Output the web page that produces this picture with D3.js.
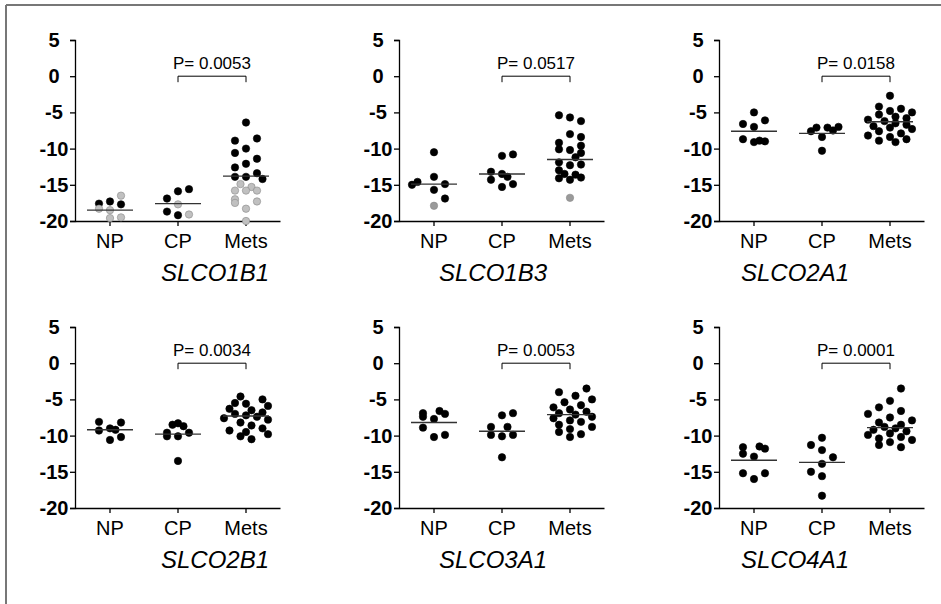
<html>
<head>
<meta charset="utf-8">
<title>SLCO expression dot plots</title>
<script src="https://cdn.jsdelivr.net/npm/d3@7"></script>
<style>
  body { margin: 0; background: #fff; }
  svg { font-family: "Liberation Sans", Arial, sans-serif; }
</style>
</head>
<body>
<svg width="941" height="604"></svg>
<script>

// groups and ticks
var groups = ["NP", "CP", "Mets"]
var yTicks = [5, 0, -5, -10, -15, -20]
var genes = ["SLCO1B1", "SLCO1B3", "SLCO2A1", "SLCO2B1", "SLCO3A1", "SLCO4A1"]
var pValues = ["0.0053", "0.0517", "0.0158", "0.0034", "0.0053", "0.0001"]

// points: [value, jitter column, shade (0 black, 1 light grey, 2 grey)]
var slco1b1 = {
  NP: [[-17.6,-1,0],[-17.3,0,0],[-17.7,1,0],[-16.5,1,1],[-18.3,-1,1],[-18.5,0,1],[-19.6,0,1],[-19.5,1,1]],
  CP: [[-16.9,-1,0],[-15.9,0,0],[-15.6,1,0],[-17.7,0,1],[-18.7,-1,0],[-19.2,0,0],[-19.1,1,1]],
  Mets: [[-6.4,0,0],[-8.9,-1,0],[-8.6,1,0],[-10.6,-1,0],[-10.0,0,0],[-11.4,1,0],[-12.6,-1,0],[-12.1,0,0],
         [-13.9,-1,0],[-13.9,0,0],[-13.4,1,0],[-14.2,1.5,0],[-14.9,-0.5,1],[-15.3,0.5,1],[-15.8,-1,1],
         [-15.8,0,1],[-15.8,1,1],[-17.0,-1,1],[-17.5,-1,1],[-17.3,1,1],[-18.3,0,1],[-20.0,0,1]]
}
var slco1b3 = {
  NP: [[-10.5,0,0],[-13.9,0,0],[-14.6,-1.5,0],[-15.0,-2,0],[-14.9,1,0],[-15.7,0,0],[-16.9,1,0],[-17.9,0,2]],
  CP: [[-11.0,0,0],[-10.8,1,0],[-13.2,-1,0],[-13.5,0,0],[-13.9,0.5,0],[-14.3,-1,0],[-14.9,1,0],[-15.3,0,0]],
  Mets: [[-5.4,-1,0],[-5.7,0,0],[-6.2,1,0],[-8.0,0,0],[-8.4,1,0],[-9.2,-1,0],[-9.6,1,0],[-10.1,-1,0],
         [-10.2,0,0],[-10.6,1,0],[-11.2,0.5,0],[-11.9,-1,0],[-12.3,0,0],[-12.2,1,0],[-13.0,-1,0],
         [-13.5,-0.5,0],[-13.6,0.5,0],[-14.1,-1,0],[-14.3,0,0],[-14.0,1,0],[-16.8,0,2]]
}
var slco2a1 = {
  NP: [[-5.0,0,0],[-6.6,-1,0],[-6.1,1,0],[-7.0,0,0],[-8.7,-1,0],[-9.1,0,0],[-8.9,0.5,0],[-9.0,1,0]],
  CP: [[-7.6,-1,0],[-7.1,-0.5,0],[-7.1,0.5,0],[-7.5,1,0],[-7.0,1.5,0],[-8.4,0,0],[-10.3,0,0]],
  Mets: [[-2.7,0,0],[-4.2,-1,0],[-4.5,1,0],[-4.8,0,0],[-5.0,2,0],[-5.3,-1,0],[-5.6,0.5,0],[-5.8,1.5,0],
         [-6.0,-2,0],[-6.2,-0.5,0],[-6.5,0.5,0],[-6.7,1.5,0],[-6.9,-1.5,0],[-7.1,0,0],[-7.3,2,0],
         [-7.6,-1,0],[-7.9,1,0],[-8.2,-2,0],[-8.4,0,0],[-8.7,1.5,0],[-8.9,-1,0],[-9.1,0.5,0]]
}
var slco2b1 = {
  NP: [[-8.1,-1,0],[-8.2,1,0],[-9.3,-1,0],[-9.0,0,0],[-9.2,0.5,0],[-10.2,1,0],[-10.6,0,0]],
  CP: [[-8.5,-0.5,0],[-8.3,0,0],[-8.7,0.5,0],[-9.6,-1,0],[-9.6,1,0],[-10.1,-1,0],[-10.1,0,0],[-13.5,0,0]],
  Mets: [[-4.6,-0.5,0],[-5.0,1.5,0],[-5.5,-1,0],[-5.6,0,0],[-5.9,2,0],[-6.3,-1.5,0],[-6.5,0.5,0],
         [-6.8,1.5,0],[-7.0,-1,0],[-7.2,0,0],[-7.4,1,0],[-7.6,-2,0],[-7.8,2,0],[-8.2,-0.5,0],[-8.6,0.5,0],
         [-9.0,1.5,0],[-9.3,-1.5,0],[-9.5,0,0],[-9.8,2,0],[-10.1,-0.5,0],[-10.5,0.5,0]]
}
var slco3a1 = {
  NP: [[-6.9,-1,0],[-6.6,0.5,0],[-7.0,1,0],[-7.4,-1,0],[-7.7,0,0],[-8.9,-1,0],[-10.2,0,0],[-9.9,1,0]],
  CP: [[-7.2,0,0],[-6.9,1,0],[-8.8,-1,0],[-8.8,0.5,0],[-9.9,-1,0],[-10.1,0,0],[-9.9,1,0],[-13.0,0,0]],
  Mets: [[-3.5,1.5,0],[-4.0,-1,0],[-4.5,0.5,0],[-5.0,2,0],[-5.4,-0.5,0],[-5.8,1,0],[-6.1,-1.5,0],
         [-6.4,0,0],[-6.7,1.5,0],[-6.9,-1,0],[-7.1,0.5,0],[-7.4,2,0],[-7.6,-1.5,0],[-7.9,0,0],[-8.1,1,0],
         [-8.5,-1,0],[-8.8,2,0],[-9.1,0,0],[-9.5,-1,0],[-9.8,1,0],[-10.2,0,0]]
}
var slco4a1 = {
  NP: [[-11.6,-1,0],[-11.5,0.5,0],[-11.8,1,0],[-12.5,-1,0],[-12.9,0,0],[-15.2,-1,0],[-15.2,1,0],[-16.0,0,0]],
  CP: [[-10.3,0,0],[-11.3,-1,0],[-12.0,0,0],[-13.0,1,0],[-13.9,0,0],[-15.0,-1,0],[-15.6,0,0],[-18.3,0,0]],
  Mets: [[-3.5,1,0],[-5.2,0,0],[-6.1,-1,0],[-6.6,1,0],[-7.0,-2,0],[-7.5,0,0],[-7.9,2,0],[-8.2,-1,0],
         [-8.5,1,0],[-8.8,-0.5,0],[-9.0,0.5,0],[-9.2,-1.5,0],[-9.4,1.5,0],[-9.7,0,0],[-9.9,-2,0],
         [-10.2,1,0],[-10.4,-1,0],[-10.6,2,0],[-10.9,0,0],[-11.3,-1,0],[-11.6,1,0]]
}
var panelPoints = [slco1b1, slco1b3, slco2a1, slco2b1, slco3a1, slco4a1]

// median lines
var medians = [
  [-18.5, -17.6, -13.8],
  [-14.9, -13.5, -11.5],
  [-7.6, -7.9, -6.3],
  [-9.2, -9.8, -7.3],
  [-8.2, -9.4, -7.1],
  [-13.4, -13.7, -8.9]
]

var svg = d3.select("svg")

// frame (top and left edges only show in the crop)
svg.append("line").attr("x1", 6).attr("y1", 5).attr("x2", 941).attr("y2", 5)
  .attr("stroke", "#777").attr("stroke-width", 2)
svg.append("line").attr("x1", 6).attr("y1", 5).attr("x2", 6).attr("y2", 604)
  .attr("stroke", "#777").attr("stroke-width", 2)

var plotW = 205, plotH = 181
var originsX = [75, 399, 719]
var originsY = [40, 327]
var titleX = [140, 94, 76]   // gene label centre, relative to each panel's axis
var shades = ["#000", "#c0c0c0", "#9a9a9a"]

var y = d3.scaleLinear().domain([-20, 5]).range([plotH, 0])
var x = d3.scalePoint().domain(groups).range([35, 171])
var jitter = d3.scaleLinear().domain([-1, 1]).range([-11, 11])

genes.forEach(function(gene, i) {
  var g = svg.append("g")
    .attr("transform", "translate(" + originsX[i % 3] + "," + originsY[Math.floor(i / 3)] + ")")

  // y axis, labels centred left of the ticks as in the original
  var ya = g.append("g").call(d3.axisLeft(y).tickValues(yTicks).tickSize(5)
    .tickFormat(function(d) { return String(d) }))
  ya.select(".domain").attr("stroke-width", 1.3)
  ya.selectAll("line").attr("stroke-width", 1.3)
  ya.selectAll("text")
    .attr("x", -21).attr("text-anchor", "middle")
    .style("font-size", "20px").style("font-weight", "bold")
    .style("font-family", "Liberation Sans, Arial, sans-serif").attr("fill", "#000")

  // x axis
  var xa = g.append("g").attr("transform", "translate(0," + plotH + ")")
    .call(d3.axisBottom(d3.scaleLinear().domain([0, plotW]).range([0, plotW])).tickValues([]).tickSizeOuter(0))
  xa.select(".domain").attr("stroke-width", 1.3)
  groups.forEach(function(grp) {
    xa.append("line").attr("x1", x(grp)).attr("x2", x(grp)).attr("y1", 0).attr("y2", 5)
      .attr("stroke", "#000").attr("stroke-width", 1.3)
    xa.append("text").attr("x", x(grp)).attr("y", 27).attr("text-anchor", "middle")
      .style("font-size", "20px").attr("fill", "#000").text(grp)
  })

  // dots
  var pts = panelPoints[i]
  groups.forEach(function(grp) {
    g.selectAll(null).data(pts[grp]).enter().append("circle")
      .attr("cx", function(d) { return x(grp) + jitter(d[1]) })
      .attr("cy", function(d) { return y(d[0]) })
      .attr("r", 3.7)
      .attr("fill", function(d) { return shades[d[2]] })
      .attr("stroke", function(d) { return d[2] ? "#888" : "#000" })
      .attr("stroke-width", 0.6)
  })

  // medians
  g.selectAll(null).data(medians[i]).enter().append("line")
    .attr("x1", function(d, k) { return x(groups[k]) - 23 })
    .attr("x2", function(d, k) { return x(groups[k]) + 23 })
    .attr("y1", function(d) { return y(d) })
    .attr("y2", function(d) { return y(d) })
    .attr("stroke", "#333").attr("stroke-width", 1.4)

  // p-value bracket CP vs Mets
  var by = y(0)
  g.append("path")
    .attr("d", "M" + x("CP") + "," + (by + 6) + "V" + by + "H" + x("Mets") + "V" + (by + 6))
    .attr("fill", "none").attr("stroke", "#000").attr("stroke-width", 1)
  g.append("text").attr("x", (x("CP") + x("Mets")) / 2).attr("y", by - 7)
    .attr("text-anchor", "middle").style("font-size", "17px").attr("fill", "#000")
    .text("P= " + pValues[i])

  // gene name
  g.append("text").attr("x", titleX[i % 3]).attr("y", plotH + 60)
    .attr("text-anchor", "middle").style("font-size", "24px").style("font-style", "italic")
    .attr("fill", "#000").text(gene)
})

</script>
</body>
</html>
